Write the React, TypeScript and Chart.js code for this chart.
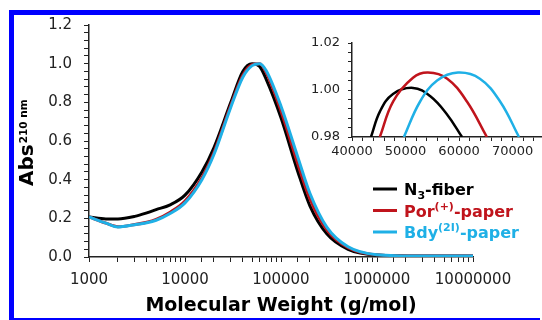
import React, { useEffect, useRef } from "react";
import { Chart, registerables } from "chart.js";

Chart.register(...registerables);

// ---- main chart data ----
const mw = [1000, 1500, 2000, 3000, 4000, 5000, 7000, 10000, 15000, 20000, 30000, 40000, 50000, 60000, 70000, 100000, 150000, 200000, 300000, 500000, 1000000, 3000000, 10000000];
const absN3 = [0.207, 0.197, 0.197, 0.21, 0.228, 0.245, 0.27, 0.32, 0.44, 0.565, 0.8, 0.96, 1.0, 0.985, 0.92, 0.72, 0.44, 0.265, 0.12, 0.04, 0.01, 0.005, 0.005];
const absPor = [0.207, 0.175, 0.157, 0.168, 0.18, 0.195, 0.232, 0.29, 0.41, 0.54, 0.785, 0.94, 0.995, 1.0, 0.955, 0.755, 0.48, 0.3, 0.14, 0.048, 0.011, 0.005, 0.005];
const absBdy = [0.207, 0.175, 0.155, 0.167, 0.177, 0.19, 0.225, 0.28, 0.4, 0.53, 0.775, 0.93, 0.99, 1.0, 0.965, 0.78, 0.515, 0.33, 0.155, 0.053, 0.012, 0.005, 0.005];

// ---- inset data ----
const insetMwN3 = [43550, 45230, 47660, 51400, 54580, 57760, 60560];
const insetAbsN3 = [0.98, 0.9909, 0.9983, 1.0009, 0.9974, 0.9896, 0.98];
const insetMwPor = [45200, 47700, 51400, 54200, 57800, 61500, 65200];
const insetAbsPor = [0.98, 0.9952, 1.0052, 1.0074, 1.0048, 0.995, 0.98];
const insetMwBdy = [49700, 52700, 55900, 59800, 63900, 67700, 71200];
const insetAbsBdy = [0.98, 0.995, 1.004, 1.0074, 1.0048, 0.995, 0.98];

// ---- inset axis ticks ----
const insetXTicks = [40000, 42000, 44000, 46000, 48000, 50000, 52000, 54000, 56000, 58000, 60000, 62000, 64000, 66000, 68000, 70000, 72000, 74000];
const insetXLabels = [40000, 50000, 60000, 70000];

const seriesNames = ["N3-fiber", "Por(+)-paper", "Bdy(2I)-paper"];
const COLORS = ["#000000", "#c0141c", "#1fb0e6"];
const FONT = "'DejaVu Sans', Verdana, sans-serif";
const FRAME = "#0000ff";

const pts = (xs: number[], ys: number[]) => xs.map((x, i) => ({ x, y: ys[i] }));

const legendParts: [string, boolean, number][][] = [
  [["N", false, 0], ["3", true, 4], ["-fiber", false, 0]],
  [["Por", false, 0], ["(+)", true, -7], ["-paper", false, 0]],
  [["Bdy", false, 0], ["(2I)", true, -7], ["-paper", false, 0]],
];

const annotPlugin = {
  id: "annot",
  beforeDraw(chart: any) {
    const ctx = chart.ctx as CanvasRenderingContext2D;
    ctx.save();
    ctx.fillStyle = "#ffffff";
    ctx.fillRect(0, 0, chart.width, chart.height);
    ctx.fillStyle = FRAME;
    ctx.fillRect(9, 10, 5, 310);
    ctx.fillRect(9, 10, 531, 5);
    ctx.fillRect(9, 318, 531, 2);
    ctx.restore();
  },
  afterDraw(chart: any) {
    const ctx = chart.ctx as CanvasRenderingContext2D;
    ctx.save();
    ctx.translate(33, 186);
    ctx.rotate(-Math.PI / 2);
    ctx.fillStyle = "#000";
    ctx.textBaseline = "alphabetic";
    ctx.textAlign = "left";
    ctx.font = `bold 20px ${FONT}`;
    ctx.fillText("Abs", 0, 0);
    const w = ctx.measureText("Abs").width;
    ctx.font = `bold 10.5px ${FONT}`;
    ctx.fillText("210 nm", w + 1, -6);
    ctx.restore();

    ctx.save();
    const baselines = [195, 216.5, 238];
    legendParts.forEach((parts, i) => {
      const by = baselines[i];
      ctx.strokeStyle = COLORS[i];
      ctx.lineWidth = 3;
      ctx.beginPath();
      ctx.moveTo(373, by - 6);
      ctx.lineTo(397, by - 6);
      ctx.stroke();
      let x = 404;
      ctx.fillStyle = COLORS[i];
      ctx.textBaseline = "alphabetic";
      ctx.textAlign = "left";
      parts.forEach(([t, small, dy]) => {
        ctx.font = small ? `bold 11px ${FONT}` : `bold 16px ${FONT}`;
        ctx.fillText(t, x, by + dy);
        x += ctx.measureText(t).width;
      });
    });
    ctx.restore();
  },
};

export default function App() {
  const mainRef = useRef<HTMLCanvasElement>(null);
  const insetRef = useRef<HTMLCanvasElement>(null);

  useEffect(() => {
    const mainData = [
      { label: seriesNames[2], data: pts(mw, absBdy), borderColor: COLORS[2] },
      { label: seriesNames[1], data: pts(mw, absPor), borderColor: COLORS[1] },
      { label: seriesNames[0], data: pts(mw, absN3), borderColor: COLORS[0] },
    ];
    const main = new Chart(mainRef.current!, {
      type: "line",
      data: {
        datasets: mainData.map((d) => ({
          ...d,
          borderWidth: 3,
          pointRadius: 0,
          fill: false,
          cubicInterpolationMode: "monotone" as const,
        })),
      },
      options: {
        animation: false,
        responsive: false,
        events: [],
        layout: { padding: { left: 0, right: 69, top: 25, bottom: 0 } },
        plugins: { legend: { display: false }, tooltip: { enabled: false } },
        scales: {
          x: {
            type: "logarithmic",
            min: 1000,
            max: 10000000,
            afterFit: (s: any) => {
              s.height = 63;
            },
            border: { display: true, color: "#222", width: 1.5 },
            grid: { drawOnChartArea: false, drawTicks: true, tickLength: 5, tickColor: "#222" },
            ticks: {
              autoSkip: false,
              maxRotation: 0,
              minRotation: 0,
              padding: 9,
              color: "#222",
              font: { family: FONT, size: 15 },
              callback: (v: any) => {
                const l = Math.log10(Number(v));
                return Math.abs(l - Math.round(l)) < 1e-9 ? String(Math.round(Number(v))) : "";
              },
            },
            title: {
              display: true,
              text: "Molecular Weight (g/mol)",
              color: "#000",
              font: { family: FONT, size: 19, weight: "bold" },
              padding: { top: 0, bottom: 3 },
            },
          },
          y: {
            type: "linear",
            min: 0,
            max: 1.2,
            afterFit: (s: any) => {
              s.width = 89;
            },
            border: { display: true, color: "#222", width: 1.5 },
            grid: { drawOnChartArea: false, drawTicks: true, tickLength: 5, tickColor: "#222" },
            ticks: {
              stepSize: 0.04,
              autoSkip: false,
              padding: 12,
              color: "#222",
              font: { family: FONT, size: 15 },
              callback: (v: any) => {
                const n = Number(v);
                const r = Math.round(n / 0.2);
                return Math.abs(n - r * 0.2) < 1e-6 ? (r * 0.2).toFixed(1) : "";
              },
            },
          },
        },
      },
      plugins: [annotPlugin],
    });

    const insetData = [
      { data: pts(insetMwBdy, insetAbsBdy), borderColor: COLORS[2] },
      { data: pts(insetMwPor, insetAbsPor), borderColor: COLORS[1] },
      { data: pts(insetMwN3, insetAbsN3), borderColor: COLORS[0] },
    ];
    const inset = new Chart(insetRef.current!, {
      type: "line",
      data: {
        datasets: insetData.map((d) => ({
          ...d,
          borderWidth: 2.5,
          pointRadius: 0,
          fill: false,
          tension: 0.4,
        })),
      },
      options: {
        animation: false,
        responsive: false,
        events: [],
        layout: { padding: { left: 0, right: 0, top: 43, bottom: 0 } },
        plugins: { legend: { display: false }, tooltip: { enabled: false } },
        scales: {
          x: {
            type: "linear",
            min: 40000,
            max: 75500,
            afterBuildTicks: (s: any) => {
              s.ticks = insetXTicks.map((v) => ({ value: v }));
            },
            afterFit: (s: any) => {
              s.height = 33;
            },
            border: { display: true, color: "#222", width: 1.5 },
            grid: { drawOnChartArea: false, drawTicks: true, tickLength: 4, tickColor: "#222" },
            ticks: {
              autoSkip: false,
              maxRotation: 0,
              minRotation: 0,
              padding: 3,
              color: "#222",
              font: { family: FONT, size: 13 },
              callback: (v: any) => {
                const n = Number(v);
                return insetXLabels.indexOf(n) >= 0 ? String(n) : "";
              },
            },
          },
          y: {
            type: "linear",
            min: 0.98,
            max: 1.02,
            afterFit: (s: any) => {
              s.width = 72;
            },
            border: { display: true, color: "#222", width: 1.5 },
            grid: { drawOnChartArea: false, drawTicks: true, tickLength: 4, tickColor: "#222" },
            ticks: {
              stepSize: 0.004,
              autoSkip: false,
              padding: 8,
              color: "#222",
              font: { family: FONT, size: 13 },
              callback: (v: any) => {
                const n = Number(v);
                const r = Math.round(n / 0.02);
                return Math.abs(n - r * 0.02) < 1e-7 ? (r * 0.02).toFixed(2) : "";
              },
            },
          },
        },
      },
    });

    return () => {
      main.destroy();
      inset.destroy();
    };
  }, []);

  return (
    <div style={{ position: "fixed", left: 0, top: 0, width: 542, height: 320, background: "#fff", overflow: "hidden" }}>
      <canvas ref={mainRef} width={542} height={320} style={{ position: "absolute", left: 0, top: 0, width: 542, height: 320 }} />
      <canvas ref={insetRef} width={262} height={170} style={{ position: "absolute", left: 280, top: 0, width: 262, height: 170 }} />
    </div>
  );
}
